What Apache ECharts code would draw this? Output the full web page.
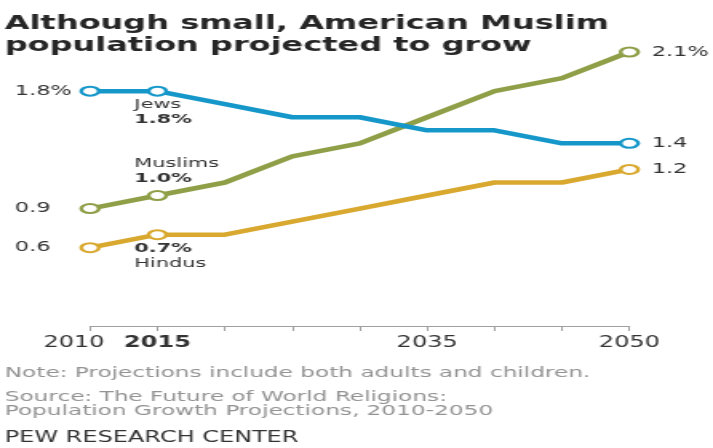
<!DOCTYPE html>
<html>
<head>
<meta charset="utf-8">
<script src="https://cdn.jsdelivr.net/npm/echarts@6/dist/echarts.min.js"></script>
<style>
  html, body { margin: 0; padding: 0; background: #fff; overflow: hidden; }
  /* the reference is stretched sideways, so draw narrow and widen it */
  #chart { width: 446px; height: 448px; transform: scaleX(1.5987); transform-origin: 0 0; }
</style>
</head>
<body>
<div id="chart"></div>
<script>
  var years = ['2010', '2015', '2020', '2025', '2030', '2035', '2040', '2045', '2050'];
  var shownYears = ['2010', '2015', '2035', '2050'];
  var jews = [1.8, 1.8, 1.7, 1.6, 1.6, 1.5, 1.5, 1.4, 1.4];
  var muslims = [0.9, 1.0, 1.1, 1.3, 1.4, 1.6, 1.8, 1.9, 2.1];
  var hindus = [0.6, 0.7, 0.7, 0.8, 0.9, 1.0, 1.1, 1.1, 1.2];
  var startLabels = ['1.8%', '0.9', '0.6'];
  var endLabels = ['1.4', '2.1%', '1.2'];

  var textColor = '#333';
  var font = 'DejaVu Sans';

  // hollow rings only at 2010, 2015 and 2050
  function build(values, startText, endText, nameLabel) {
    return values.map(function (v, i) {
      var item = { value: v };
      if (i !== 0 && i !== 1 && i !== values.length - 1) {
        item.symbol = 'none';
        return item;
      }
      if (i === 0) {
        item.label = {
          show: true, position: 'inside', align: 'left', verticalAlign: 'middle',
          offset: [-47, 0], formatter: startText,
          color: textColor, fontFamily: font, fontSize: 14
        };
      } else if (i === values.length - 1) {
        item.label = {
          show: true, position: 'inside', align: 'left', verticalAlign: 'middle',
          offset: [14, 0], formatter: endText,
          color: textColor, fontFamily: font, fontSize: 14
        };
      } else {
        item.label = nameLabel;
      }
      return item;
    });
  }

  function nameLabel(text, below, dy) {
    return {
      show: true, position: 'inside', align: 'left',
      verticalAlign: below ? 'top' : 'bottom',
      offset: [-14.4, dy],
      formatter: text,
      rich: {
        n: { fontFamily: font, fontSize: 13, lineHeight: 15, color: textColor },
        b: { fontFamily: font, fontSize: 13, fontWeight: 'bold', lineHeight: 15, color: textColor }
      }
    };
  }

  function lineSeries(name, color, data) {
    return {
      name: name,
      type: 'line',
      data: data,
      color: color,
      symbol: 'circle',
      symbolSize: [11, 9],
      showAllSymbol: true,
      lineStyle: { width: 4.5, color: color },
      itemStyle: { color: '#fff', borderColor: color, borderWidth: 2.2 },
      emphasis: { disabled: true },
      z: 3
    };
  }

  var chart = echarts.init(document.getElementById('chart'), null, { renderer: 'canvas' });

  var option = {
    animation: false,
    backgroundColor: '#fff',
    title: [
      {
        text: 'Although small, American Muslim\npopulation projected to grow',
        left: 3, top: 13, padding: 0,
        textStyle: { fontFamily: font, fontWeight: 'bold', fontSize: 20, lineHeight: 22, color: '#262626' }
      },
      {
        text: 'Note: Projections include both adults and children.',
        left: 3, top: 365, padding: 0,
        textStyle: { fontFamily: font, fontWeight: 'normal', fontSize: 14.5, lineHeight: 16, color: '#939393' }
      },
      {
        text: 'Source: The Future of World Religions:\nPopulation Growth Projections, 2010-2050',
        left: 3, top: 390, padding: 0,
        textStyle: { fontFamily: font, fontWeight: 'normal', fontSize: 14.5, lineHeight: 14, color: '#939393' }
      },
      {
        text: 'PEW RESEARCH CENTER',
        left: 3, top: 430, padding: 0,
        textStyle: { fontFamily: font, fontWeight: 'normal', fontSize: 15, lineHeight: 16, color: '#333' }
      }
    ],
    grid: { left: 56.3, right: 52.3, top: 52, bottom: 122, containLabel: false },
    xAxis: {
      type: 'category',
      data: years,
      boundaryGap: false,
      axisLine: { lineStyle: { color: '#a0a0a0', width: 1 } },
      axisTick: { show: true, length: 5, alignWithLabel: true, lineStyle: { color: '#a0a0a0' } },
      axisLabel: {
        interval: 0,
        margin: 10,
        formatter: function (v) {
          if (shownYears.indexOf(v) < 0) return '';
          if (v === '2015') return '{b|' + v + '}';
          if (v === '2010') return '{l|' + v + '}';
          return '{r|' + v + '}';
        },
        rich: {
          r: { fontFamily: font, fontSize: 15, color: textColor },
          l: { fontFamily: font, fontSize: 15, color: textColor, padding: [0, 20, 0, 0] },
          b: { fontFamily: font, fontSize: 15, fontWeight: 'bold', color: textColor }
        }
      },
      splitLine: { show: false }
    },
    yAxis: {
      type: 'value',
      min: 0,
      max: 2.1,
      show: false
    },
    series: [
      lineSeries('Hindus', '#d9a82e',
        build(hindus, startLabels[2], endLabels[2],
          nameLabel('{b|0.7%}\n{n|Hindus}', true, 6))),
      lineSeries('Muslims', '#8f9f48',
        build(muslims, startLabels[1], endLabels[1],
          nameLabel('{n|Muslims}\n{b|1.0%}', false, -9))),
      lineSeries('Jews', '#1597c9',
        build(jews, startLabels[0], endLabels[0],
          nameLabel('{n|Jews}\n{b|1.8%}', true, 6)))
    ]
  };

  chart.setOption(option);
</script>
</body>
</html>
